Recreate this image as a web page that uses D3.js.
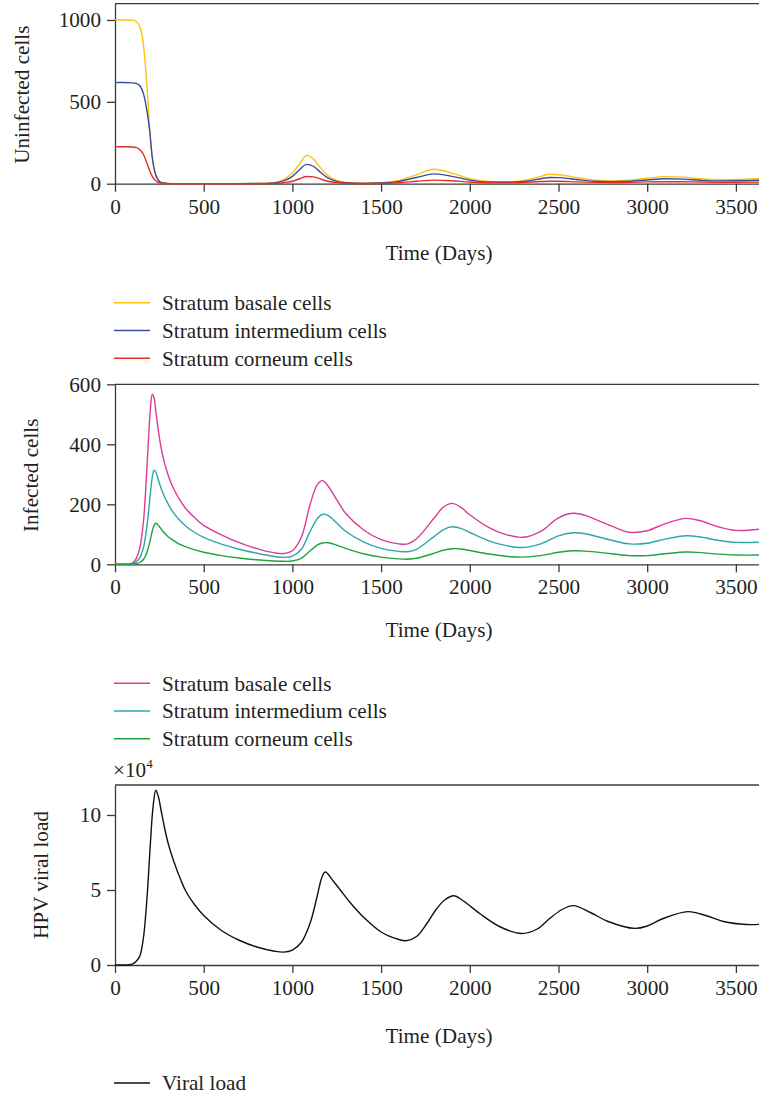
<!DOCTYPE html>
<html>
<head>
<meta charset="utf-8">
<script src="https://cdn.jsdelivr.net/npm/d3@7"></script>
<style>
  body { margin: 0; background: #fff; }
  text { font-family: "Liberation Serif", "DejaVu Serif", serif; fill: #231f20; }
</style>
</head>
<body>
<svg id="chart" width="759" height="1094"></svg>
<script>
// Time grids (days)
var topTime = [0,50,100,120,140,160,180,195,210,225,240,260,290,320,400,600,800,900,950,1000,1040,1080,1120,1160,1200,1250,1300,1400,1500,1600,1700,1800,1900,2000,2100,2200,2300,2400,2450,2500,2600,2700,2800,2900,3000,3100,3200,3300,3400,3500,3650];
var uninfBasale = [1000,1000,998,990,960,850,600,340,160,70,30,8,2,0,0,0,1,8,25,65,120,173,150,95,50,20,8,3,6,20,55,88,65,30,14,12,18,45,58,55,38,22,17,22,33,43,40,30,24,26,32];
var uninfInter  = [618,618,616,612,598,552,445,330,160,70,28,8,2,0,0,0,1,5,17,45,85,118,105,68,35,14,6,2,4,14,38,60,45,22,10,9,13,30,38,37,26,15,12,15,23,30,28,21,17,18,22];
var uninfCorneum = [226,226,224,220,208,180,125,80,45,22,10,4,1,0,0,0,0,2,6,15,30,44,42,28,15,7,3,1,2,6,15,22,18,10,6,5,7,13,15,15,11,8,7,8,11,12,12,10,9,9,10];

var midTime = [0,50,80,100,120,140,160,175,190,200,210,220,230,240,255,270,290,320,360,400,450,500,600,700,800,900,950,1000,1050,1100,1140,1170,1200,1250,1300,1400,1500,1600,1650,1700,1800,1850,1900,1950,2000,2100,2200,2300,2400,2500,2580,2650,2800,2900,3000,3100,3220,3300,3400,3500,3650];
var infBasale = [0,0,1,5,20,55,140,270,430,520,567,555,510,465,405,360,315,265,220,185,155,130,98,72,52,38,36,45,90,200,265,279,262,215,170,115,82,68,68,85,155,190,203,190,165,125,100,90,110,155,170,163,127,107,112,135,153,145,125,113,118];
var infInter = [0,0,0,2,8,22,55,105,180,240,290,314,308,290,262,238,212,180,150,127,106,90,67,50,37,26,23,27,50,110,152,167,163,138,110,75,53,43,42,50,93,115,125,120,106,80,63,56,68,95,105,102,80,68,70,84,95,91,80,73,74];
var infCorneum = [0,0,0,0,2,6,16,32,60,85,110,130,137,133,122,110,97,83,68,58,48,40,29,21,15,11,10,11,20,45,64,71,72,64,53,35,24,18,17,20,37,47,52,51,46,35,27,24,29,40,45,44,35,29,29,35,41,39,34,31,31];

var virTime = [0,50,80,100,120,140,160,180,200,215,230,245,260,280,300,330,370,400,450,500,600,700,800,900,950,1000,1050,1100,1140,1165,1185,1230,1270,1330,1400,1500,1600,1640,1700,1760,1810,1860,1910,1960,2060,2170,2290,2380,2450,2520,2585,2680,2780,2930,3000,3090,3230,3330,3430,3560,3650];
var viralLoad = [0,0,0.02,0.08,0.25,0.6,1.8,4.4,8.2,10.6,11.65,11.2,10.3,9.1,8.1,6.95,5.7,4.9,4.0,3.3,2.3,1.65,1.2,0.92,0.86,1.0,1.5,2.8,4.6,5.8,6.2,5.6,5.0,4.1,3.2,2.2,1.7,1.62,1.9,2.8,3.7,4.35,4.62,4.3,3.4,2.55,2.1,2.4,3.1,3.7,3.96,3.5,2.9,2.44,2.6,3.1,3.56,3.3,2.9,2.7,2.72];

var xTicks = [0,500,1000,1500,2000,2500,3000,3500];
var legendTop = ["Stratum basale cells","Stratum intermedium cells","Stratum corneum cells"];
var legendVir = ["Viral load"];

var svg = d3.select("#chart");
var x = d3.scaleLinear().domain([0,3650]).range([115,762.5]);
var axisColor = "#3a3a3a";
var fs = 21.2;

function panel(cfg){
    var y = d3.scaleLinear().domain(cfg.yDomain).range([cfg.bottom, cfg.top]);
    var g = svg.append("g");

    // top frame line
    g.append("line")
    .attr("x1", x(0)).attr("x2", 759)
    .attr("y1", cfg.top).attr("y2", cfg.top)
    .attr("stroke", axisColor).attr("stroke-width", 1.3);

    var xAxis = g.append("g")
    .attr("transform", "translate(0," + cfg.bottom + ")")
    .call(d3.axisBottom(x).tickValues(xTicks).tickSize(8).tickSizeOuter(0).tickFormat(d3.format("d")));

    var yAxis = g.append("g")
    .attr("transform", "translate(" + x(0) + ",0)")
    .call(d3.axisLeft(y).tickValues(cfg.yTicks).tickSize(8).tickSizeOuter(0).tickFormat(d3.format("d")));

    [xAxis, yAxis].forEach(function(a){
        a.select(".domain").attr("stroke", axisColor).attr("stroke-width", 1.3);
        a.selectAll(".tick line").attr("stroke", axisColor).attr("stroke-width", 1.3);
        a.selectAll(".tick text").attr("font-family", "Liberation Serif").attr("font-size", fs).attr("fill", "#231f20");
    });
    xAxis.selectAll(".tick text").attr("y", 15);
    yAxis.selectAll(".tick text").attr("x", -14);

    var line = d3.line()
    .x(function(d){ return x(d[0]); })
    .y(function(d){ return y(d[1]); })
    .curve(cfg.curve);

    g.selectAll("path.series")
    .data(cfg.series)
    .enter().append("path")
    .attr("class", "series")
    .attr("fill", "none")
    .attr("stroke", function(d){ return d.color; })
    .attr("stroke-width", 1.4)
    .attr("d", function(d){ return line(cfg.time.map(function(t, i){ return [t, d.values[i]]; })); });

    g.append("text")
    .attr("transform", "translate(" + cfg.labelX + "," + ((cfg.top + cfg.bottom) / 2 + cfg.labelShift) + ") rotate(-90)")
    .attr("text-anchor", "middle")
    .attr("dy", "0.35em")
    .attr("font-size", fs)
    .text(cfg.yLabel);

    g.append("text")
    .attr("x", 439).attr("y", cfg.timeY)
    .attr("text-anchor", "middle")
    .attr("dy", "0.35em")
    .attr("font-size", fs)
    .text("Time (Days)");

    var leg = g.selectAll("g.leg")
    .data(cfg.series)
    .enter().append("g")
    .attr("class", "leg")
    .attr("transform", function(d, i){ return "translate(0," + (cfg.legendY + i * cfg.legendStep) + ")"; });

    leg.append("line")
    .attr("x1", 114).attr("x2", 150)
    .attr("stroke", function(d){ return d.color; })
    .attr("stroke-width", 1.4);

    leg.append("text")
    .attr("x", 162)
    .attr("dy", "0.35em")
    .attr("font-size", fs)
    .text(function(d){ return d.name; });

    return g;
}

panel({
    top: 3.6, bottom: 183.7, yDomain: [0,1100], yTicks: [0,500,1000],
    yLabel: "Uninfected cells", labelX: 22, labelShift: 1,
    timeY: 253, legendY: 302.7, legendStep: 27.8,
    time: topTime, curve: d3.curveMonotoneX,
    series: [
        {name: legendTop[0], color: "#FFC20E", values: uninfBasale},
        {name: legendTop[1], color: "#3C4DA0", values: uninfInter},
        {name: legendTop[2], color: "#E52E23", values: uninfCorneum}
    ]
});

panel({
    top: 384.3, bottom: 564.3, yDomain: [0,600], yTicks: [0,200,400,600],
    yLabel: "Infected cells", labelX: 31, labelShift: 1,
    timeY: 630, legendY: 683.3, legendStep: 27.7,
    time: midTime, curve: d3.curveCatmullRom.alpha(0.5),
    series: [
        {name: legendTop[0], color: "#DB3C96", values: infBasale},
        {name: legendTop[1], color: "#2FA6A8", values: infInter},
        {name: legendTop[2], color: "#20A33C", values: infCorneum}
    ]
});

var bot = panel({
    top: 785, bottom: 965, yDomain: [0,12], yTicks: [0,5,10],
    yLabel: "HPV viral load", labelX: 41, labelShift: 0,
    timeY: 1036, legendY: 1083, legendStep: 0,
    time: virTime, curve: d3.curveCatmullRom.alpha(0.5),
    series: [
        {name: legendVir[0], color: "#111111", values: viralLoad}
    ]
});

// exponent marker above the viral load axis
var expo = bot.append("text")
.attr("x", 113).attr("y", 777)
.attr("font-size", fs);
expo.append("tspan").text("\u00d710");
expo.append("tspan").attr("dy", -9).attr("font-size", 13).text("4");
</script>
</body>
</html>
